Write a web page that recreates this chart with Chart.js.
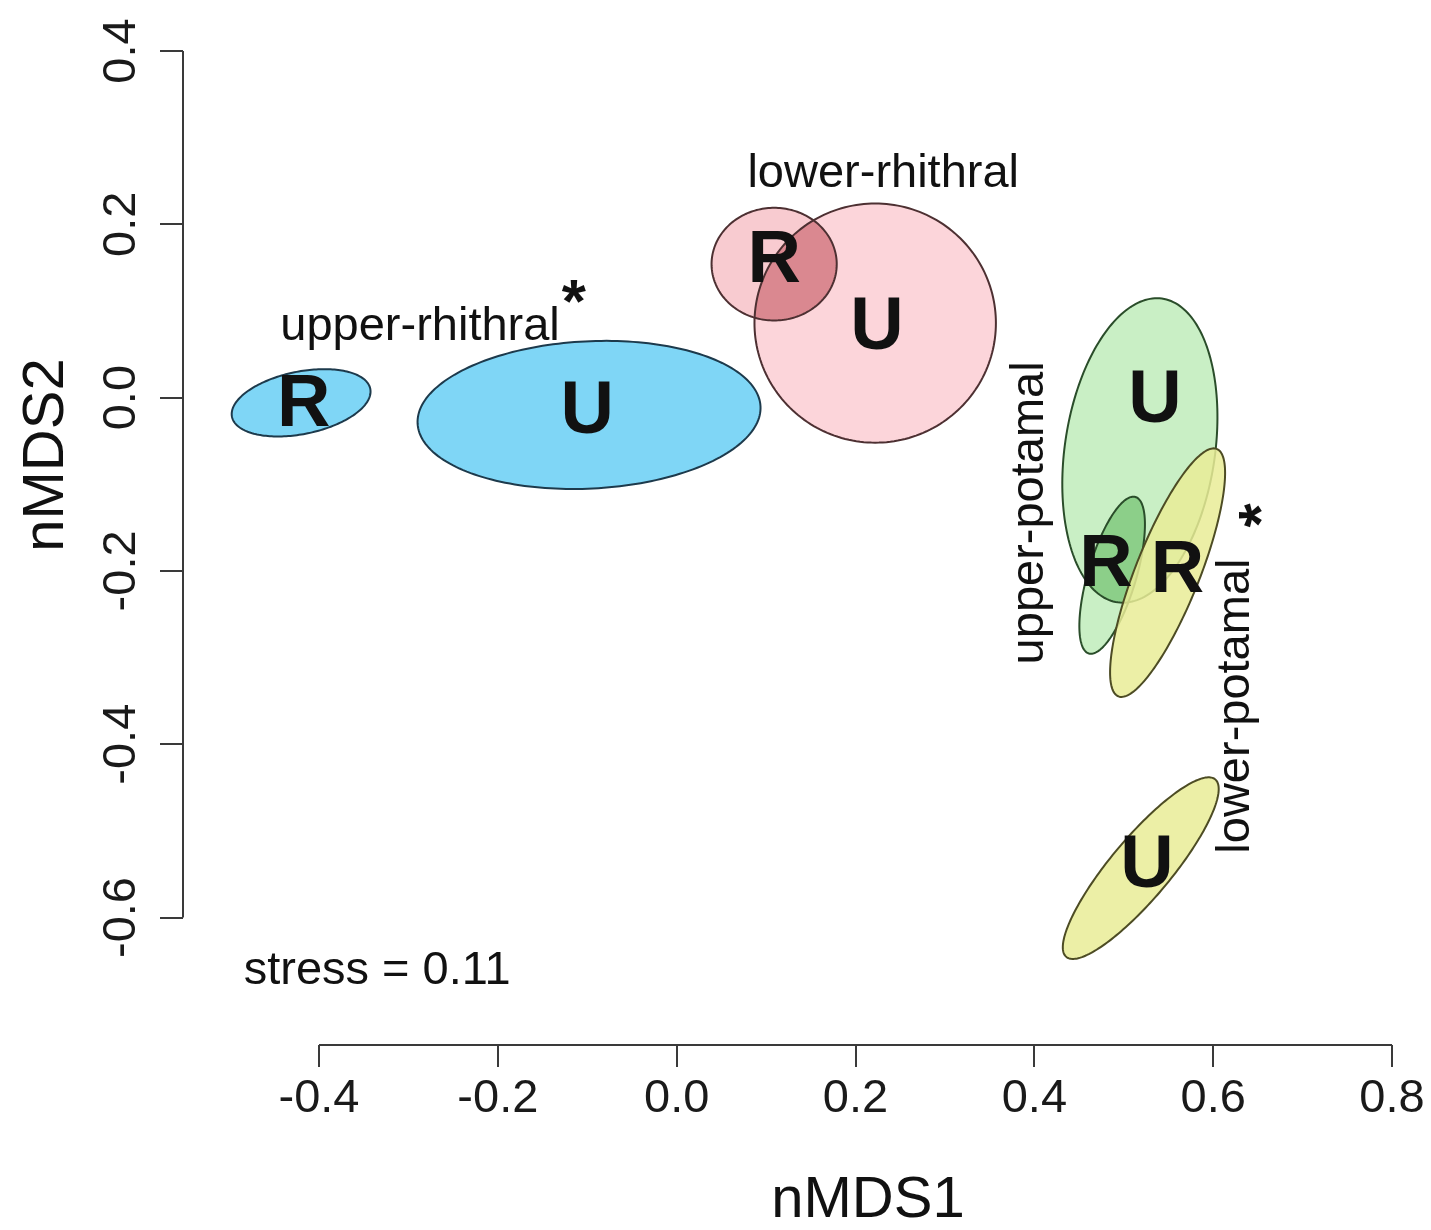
<!DOCTYPE html>
<html>
<head>
<meta charset="utf-8">
<script src="https://cdn.jsdelivr.net/npm/chart.js@4.4.0/dist/chart.umd.min.js"></script>
<style>
  html, body { margin: 0; padding: 0; background: #fff; }
  canvas { display: block; }
</style>
</head>
<body>
<canvas id="nmdsChart" width="1431" height="1230"></canvas>
<script>
// one ellipse per zone and site type (R / U), in nMDS units
const zones = ['upper-rhithral', 'upper-rhithral', 'lower-rhithral', 'lower-rhithral',
               'upper-potamal', 'upper-potamal', 'lower-potamal', 'lower-potamal'];
const sites = ['R', 'U', 'R', 'U', 'U', 'R', 'R', 'U'];
const centreX = [-0.420, -0.098, 0.109, 0.222, 0.518, 0.487, 0.549, 0.519];
const centreY = [-0.006, -0.020, 0.154, 0.086, -0.061, -0.205, -0.202, -0.543];
const axisA = [0.079, 0.192, 0.070, 0.135, 0.177, 0.094, 0.153, 0.132];
const axisB = [0.036, 0.085, 0.065, 0.138, 0.084, 0.027, 0.036, 0.034];
const angleDeg = [12, 3, 0, 0, 82, 74, 69, 51];

// where the R / U letters sit
const labelX = [-0.417, -0.100, 0.109, 0.224, 0.535, 0.480, 0.560, 0.526];
const labelY = [-0.009, -0.017, 0.157, 0.080, -0.005, -0.194, -0.201, -0.541];

const xTicks = [-0.4, -0.2, 0.0, 0.2, 0.4, 0.6, 0.8];
const yTicks = [-0.6, -0.4, -0.2, 0.0, 0.2, 0.4];

// text added on the plot
const noteText = ['upper-rhithral', '*', 'lower-rhithral', 'upper-potamal', 'lower-potamal', '*', 'stress = 0.11'];
const noteX = [-0.287, -0.115, 0.231, 0.395, 0.626, 0.657, -0.335];
const noteY = [0.0815, 0.107, 0.258, -0.133, -0.356, -0.136, -0.662];

// styles
const FONT = '"Liberation Sans", Arial, Helvetica, sans-serif';
const noteRot = [0, 0, 0, -90, -90, -90, 0];
const noteFont = ['47px', 'bold 62px', '47px', '47px', '47px', 'bold 62px', '47px'];
const fills = ['#7fd6f6', '#7fd6f6', '#f8cbd0', '#fcd5da', '#c9efc5', '#c9efc5',
               'rgba(233,236,150,0.85)', 'rgba(233,236,150,0.85)'];
const strokes = ['#1d3a4c', '#1d3a4c', '#4d3032', '#4d3032', '#2a4d2a', '#2a4d2a', '#4d4c24', '#4d4c24'];
const overlaps = [[2, 3, '#da8890'], [4, 5, '#8ccf89']];
const drawGroups = [[0, 1], [2, 3], [4, 5], [6, 7]];

function tracePath(ctx, xs, ys, i) {
    const t = angleDeg[i] * Math.PI / 180;
    ctx.beginPath();
    for (let k = 0; k <= 200; k++) {
        const p = k / 200 * 2 * Math.PI;
        const dx = axisA[i] * Math.cos(p);
        const dy = axisB[i] * Math.sin(p);
        const vx = centreX[i] + dx * Math.cos(t) - dy * Math.sin(t);
        const vy = centreY[i] + dx * Math.sin(t) + dy * Math.cos(t);
        const px = xs.getPixelForValue(vx);
        const py = ys.getPixelForValue(vy);
        if (k === 0) ctx.moveTo(px, py); else ctx.lineTo(px, py);
    }
    ctx.closePath();
}

const ellipsePlugin = {
    id: 'ellipses',
    beforeDatasetsDraw(chart) {
        const ctx = chart.ctx;
        const xs = chart.scales.x;
        const ys = chart.scales.y;
        ctx.save();
        drawGroups.forEach(function (group) {
            group.forEach(function (i) {
                tracePath(ctx, xs, ys, i);
                ctx.fillStyle = fills[i];
                ctx.fill();
            });
            overlaps.forEach(function (o) {
                if (group.indexOf(o[0]) < 0) return;
                ctx.save();
                tracePath(ctx, xs, ys, o[0]);
                ctx.clip();
                tracePath(ctx, xs, ys, o[1]);
                ctx.fillStyle = o[2];
                ctx.fill();
                ctx.restore();
            });
            group.forEach(function (i) {
                tracePath(ctx, xs, ys, i);
                ctx.strokeStyle = strokes[i];
                ctx.lineWidth = 2;
                ctx.stroke();
            });
        });
        ctx.restore();
    },
    afterDatasetsDraw(chart) {
        const ctx = chart.ctx;
        const meta = chart.getDatasetMeta(0);
        ctx.save();
        ctx.fillStyle = '#111';
        ctx.font = 'bold 74px ' + FONT;
        ctx.textAlign = 'center';
        ctx.textBaseline = 'middle';
        meta.data.forEach(function (pt, i) {
            ctx.fillText(sites[i], pt.x, pt.y);
        });
        ctx.restore();
    },
    afterDraw(chart) {
        const ctx = chart.ctx;
        const xs = chart.scales.x;
        const ys = chart.scales.y;
        const area = chart.chartArea;
        ctx.save();
        // R style axis lines, first tick to last tick
        ctx.strokeStyle = '#3a3a3a';
        ctx.lineWidth = 2;
        ctx.beginPath();
        ctx.moveTo(xs.getPixelForValue(xTicks[0]), area.bottom);
        ctx.lineTo(xs.getPixelForValue(xTicks[xTicks.length - 1]), area.bottom);
        ctx.moveTo(area.left, ys.getPixelForValue(yTicks[0]));
        ctx.lineTo(area.left, ys.getPixelForValue(yTicks[yTicks.length - 1]));
        ctx.stroke();

        ctx.fillStyle = '#111';
        ctx.textAlign = 'center';
        ctx.textBaseline = 'middle';
        noteText.forEach(function (txt, i) {
            ctx.save();
            ctx.translate(xs.getPixelForValue(noteX[i]), ys.getPixelForValue(noteY[i]));
            ctx.rotate(noteRot[i] * Math.PI / 180);
            ctx.font = noteFont[i] + ' ' + FONT;
            ctx.fillText(txt, 0, 0);
            ctx.restore();
        });

        // axis titles
        ctx.font = '58px ' + FONT;
        ctx.fillText('nMDS1', 868, 1201);
        ctx.save();
        ctx.translate(47, 455);
        ctx.rotate(-Math.PI / 2);
        ctx.fillText('nMDS2', 0, 0);
        ctx.restore();
        ctx.restore();
    }
};

const tickFont = { family: FONT, size: 47 };

new Chart(document.getElementById('nmdsChart'), {
    type: 'scatter',
    data: {
        datasets: [{
            label: 'sites',
            data: labelX.map(function (x, i) { return { x: x, y: labelY[i] }; }),
            pointRadius: 0,
            showLine: false
        }]
    },
    options: {
        responsive: false,
        animation: false,
        events: [],
        layout: { padding: { top: 10, right: 21, bottom: 0, left: 0 } },
        plugins: {
            legend: { display: false },
            tooltip: { enabled: false }
        },
        scales: {
            x: {
                type: 'linear',
                min: -0.5521,
                max: 0.8201,
                bounds: 'data',
                afterBuildTicks: function (s) { s.ticks = xTicks.map(function (v) { return { value: v }; }); },
                afterFit: function (s) { s.height = 185; s.paddingLeft = 0; s.paddingRight = 0; },
                border: { display: false },
                grid: { drawOnChartArea: false, drawTicks: true, tickLength: 22, color: '#3a3a3a', lineWidth: 2 },
                ticks: {
                    autoSkip: false,
                    maxRotation: 0,
                    padding: 4,
                    color: '#1a1a1a',
                    font: tickFont,
                    callback: function (v) { return v.toFixed(1); }
                }
            },
            y: {
                type: 'linear',
                min: -0.7471,
                max: 0.4473,
                bounds: 'data',
                afterBuildTicks: function (s) { s.ticks = yTicks.map(function (v) { return { value: v }; }); },
                afterFit: function (s) { s.width = 183; s.paddingTop = 0; s.paddingBottom = 0; },
                border: { display: false },
                grid: { drawOnChartArea: false, drawTicks: true, tickLength: 23, color: '#3a3a3a', lineWidth: 2 },
                ticks: {
                    autoSkip: false,
                    minRotation: 90,
                    maxRotation: 90,
                    crossAlign: 'center',
                    padding: -3,
                    color: '#1a1a1a',
                    font: tickFont,
                    callback: function (v) { return v.toFixed(1); }
                }
            }
        }
    },
    plugins: [ellipsePlugin]
});
</script>
</body>
</html>
